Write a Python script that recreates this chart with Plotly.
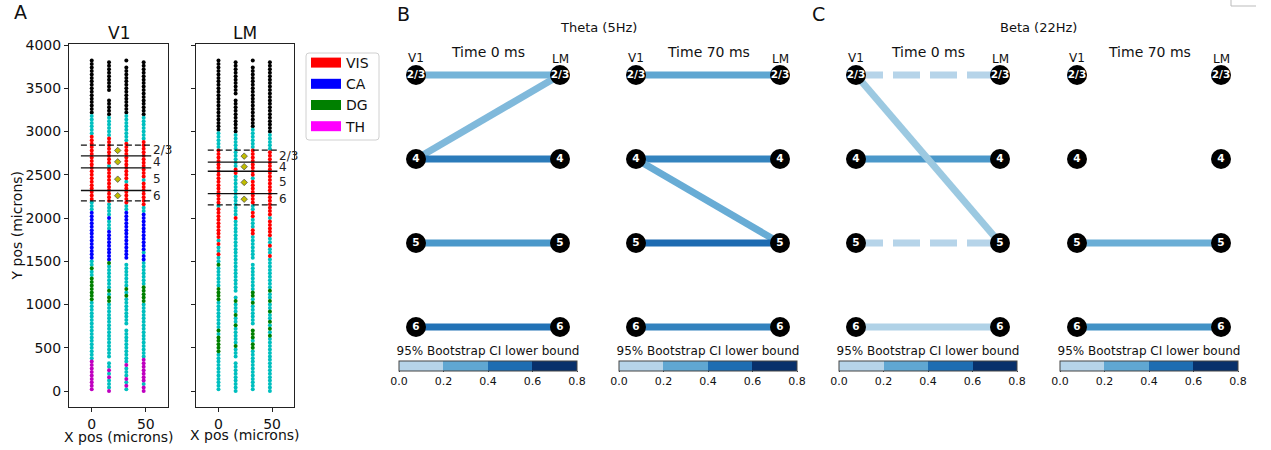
import numpy as np
import plotly.graph_objects as go
from plotly.colors import sample_colorscale, sequential

W, H = 1271, 450
FONT = "DejaVu Sans"

# ---------------------------------------------------------------- panel A data
# Shank columns of the probe (microns) and vertical site pitch per column.
shank_x = [0, 16, 32, 48]
shank_first_site = [20, 0, 20, 0]
SITE_PITCH = 40

# Region runs along each column: (region, first site y, last site y).
# "out" = outside brain, "other" = unassigned tissue.
v1_col_0 = [("TH", 20, 340), ("other", 380, 1020), ("DG", 1060, 1300), ("other", 1340, 1380),
            ("DG", 1420, 1420), ("other", 1460, 1500), ("CA", 1540, 2060), ("other", 2100, 2180),
            ("VIS", 2220, 2940), ("other", 2980, 3180), ("out", 3220, 3820)]
v1_col_16 = [("TH", 0, 0), ("other", 40, 120), ("TH", 160, 160), ("other", 200, 200), ("TH", 240, 240),
             ("other", 280, 320), ("other", 400, 1000), ("DG", 1040, 1080), ("other", 1120, 1120),
             ("DG", 1160, 1160), ("other", 1200, 1440), ("DG", 1480, 1480), ("CA", 1520, 1840),
             ("other", 1880, 1960), ("CA", 2000, 2000), ("other", 2040, 2160), ("VIS", 2200, 2560),
             ("other", 2600, 2600), ("VIS", 2640, 2920), ("other", 2960, 3160), ("out", 3200, 3360),
             ("out", 3480, 3800)]
v1_col_32 = [("other", 20, 20), ("TH", 60, 60), ("other", 100, 100), ("TH", 140, 140), ("other", 180, 260),
             ("TH", 300, 300), ("other", 340, 700), ("other", 780, 1060), ("DG", 1100, 1100),
             ("other", 1140, 1140), ("DG", 1180, 1180), ("other", 1220, 1460), ("CA", 1540, 2060),
             ("other", 2100, 2140), ("VIS", 2180, 2380), ("other", 2420, 2420), ("VIS", 2460, 2860),
             ("other", 2900, 3180), ("out", 3220, 3740), ("out", 3820, 3820)]
v1_col_48 = [("TH", 0, 40), ("other", 80, 80), ("TH", 120, 360), ("other", 400, 1000), ("DG", 1040, 1200),
             ("other", 1240, 1480), ("CA", 1520, 1560), ("other", 1600, 1600), ("CA", 1640, 2040),
             ("other", 2080, 2120), ("VIS", 2160, 2400), ("other", 2440, 2440), ("VIS", 2480, 2880),
             ("other", 2920, 3160), ("out", 3200, 3800)]

lm_col_0 = [("other", 20, 420), ("DG", 460, 620), ("other", 660, 660), ("DG", 700, 700), ("other", 740, 1020),
            ("DG", 1060, 1180), ("other", 1220, 1420), ("DG", 1460, 1460), ("other", 1500, 1540),
            ("VIS", 1580, 1580), ("other", 1620, 1660), ("VIS", 1700, 1700), ("other", 1740, 1740),
            ("VIS", 1780, 2100), ("other", 2140, 2140), ("VIS", 2180, 2780), ("other", 2820, 2980),
            ("out", 3020, 3820)]
lm_col_16 = [("other", 0, 320), ("other", 400, 480), ("DG", 520, 520), ("other", 560, 720), ("DG", 760, 760),
             ("other", 800, 840), ("DG", 880, 880), ("other", 920, 1000), ("DG", 1040, 1040),
             ("other", 1080, 1080), ("other", 1160, 1960), ("VIS", 2000, 2000), ("other", 2040, 2480),
             ("VIS", 2520, 2560), ("other", 2600, 2960), ("out", 3000, 3360), ("out", 3440, 3800)]
lm_col_32 = [("other", 20, 460), ("DG", 500, 540), ("other", 580, 580), ("DG", 620, 700), ("other", 780, 980),
             ("DG", 1020, 1020), ("other", 1060, 1060), ("DG", 1100, 1140), ("other", 1180, 1460),
             ("other", 1540, 1780), ("VIS", 1820, 1860), ("other", 1900, 1980), ("VIS", 2020, 2060),
             ("other", 2100, 2140), ("VIS", 2180, 2420), ("other", 2460, 2460), ("VIS", 2500, 2780),
             ("other", 2820, 3020), ("out", 3060, 3740), ("out", 3820, 3820)]
lm_col_48 = [("other", 0, 600), ("DG", 640, 640), ("other", 680, 680), ("DG", 720, 720), ("other", 760, 760),
             ("DG", 800, 800), ("other", 840, 880), ("DG", 920, 920), ("other", 960, 1000),
             ("DG", 1040, 1040), ("other", 1080, 1120), ("DG", 1160, 1160), ("other", 1200, 1520),
             ("VIS", 1560, 1560), ("other", 1600, 1640), ("VIS", 1680, 1680), ("other", 1720, 1760),
             ("VIS", 1800, 1960), ("other", 2000, 2000), ("VIS", 2040, 2760), ("other", 2800, 2960),
             ("out", 3000, 3800)]

# Cortical layer boundaries (microns), top to bottom
layer_names = ["2/3", "4", "5", "6"]
v1_layer_bounds = [2843, 2719, 2580, 2318, 2198]
lm_layer_bounds = [2785, 2646, 2541, 2283, 2152]

site_colors = {"out": "#000000", "other": "#00bfbf", "VIS": "#ff0000",
               "CA": "#0000ff", "DG": "#008000", "TH": "#bf00bf"}
legend_regions = ["VIS", "CA", "DG", "TH"]
legend_colors = ["#ff0000", "#0000ff", "#008000", "#ff00ff"]

# ---------------------------------------------------------------- panels B, C data
# Inter-areal edges V1 layer -> LM layer, value = 95% bootstrap CI lower bound.
theta_0_from = ["2/3", "4", "4", "5", "6"]
theta_0_to = ["2/3", "2/3", "4", "5", "6"]
theta_0_ci = [0.20, 0.17, 0.47, 0.34, 0.51]

theta_70_from = ["2/3", "4", "4", "5", "6"]
theta_70_to = ["2/3", "4", "5", "5", "6"]
theta_70_ci = [0.27, 0.43, 0.24, 0.54, 0.44]

beta_0_from = ["2/3", "4", "5", "6", "2/3"]
beta_0_to = ["2/3", "4", "5", "6", "5"]
beta_0_ci = [-0.05, 0.34, -0.05, 0.02, 0.09]

beta_70_from = ["5", "6"]
beta_70_to = ["5", "6"]
beta_70_ci = [0.23, 0.37]

CI_MAX = 0.8
cbar_ticks = [0.0, 0.2, 0.4, 0.6, 0.8]


def ci_color(v):
    # truncated Blues map (0.3 .. 1.0) over 0 .. CI_MAX
    t = 0.3 + 0.7 * min(max(v / CI_MAX, 0.0), 1.0)
    return sample_colorscale(sequential.Blues, [t])[0]


bins = sample_colorscale(sequential.Blues, [0.3, 0.3 + 0.7 / 3, 0.3 + 1.4 / 3, 1.0])
discrete_scale = []
for i, c in enumerate(bins):
    discrete_scale += [[i / 4, c], [(i + 1) / 4, c]]

fig = go.Figure()


def px_x(p):
    return p / W


def px_y(p):
    return 1 - p / H


def label(x, y, text, size, **kw):
    d = dict(x=px_x(x), y=px_y(y), xref="paper", yref="paper", text=text, showarrow=False,
             xanchor="center", yanchor="middle", font=dict(size=size))
    d.update(kw)
    return d


# ---------------------------------------------------------------- panel A traces
def add_probe(columns, xa, ya):
    for region, color in site_colors.items():
        xs, ys = [], []
        for xpos, first, runs in zip(shank_x, shank_first_site, columns):
            for reg, y0, y1 in runs:
                if reg != region:
                    continue
                pts = np.arange(y0, y1 + 1, SITE_PITCH)
                xs += [xpos] * len(pts)
                ys += list(pts)
        fig.add_trace(go.Scatter(x=xs, y=ys, mode="markers", xaxis=xa, yaxis=ya,
                                 marker=dict(size=4, color=color, line=dict(width=0)),
                                 showlegend=False, hoverinfo="skip"))


def add_layers(bounds, xa, ya, anns):
    n = len(bounds)
    for i, b in enumerate(bounds):
        dashed = i == 0 or i == n - 1
        fig.add_trace(go.Scatter(x=[-10, 55], y=[b, b], mode="lines", xaxis=xa, yaxis=ya,
                                 line=dict(color="#111111", width=1.3, dash="6px,3px" if dashed else "solid"),
                                 showlegend=False, hoverinfo="skip"))
    mids = [(bounds[i] + bounds[i + 1]) / 2 for i in range(n - 1)]
    fig.add_trace(go.Scatter(x=[24] * len(mids), y=mids, mode="markers", xaxis=xa, yaxis=ya,
                             marker=dict(symbol="diamond", size=5, color="#c0bc00",
                                         line=dict(color="#444444", width=0.7)),
                             showlegend=False, hoverinfo="skip"))
    for name, m in zip(layer_names, mids):
        anns.append(dict(x=55, y=m, xref=xa, yref=ya, text=name, showarrow=False,
                         xanchor="left", yanchor="middle", font=dict(size=12, color="#222222")))


annotations = []
add_probe([v1_col_0, v1_col_16, v1_col_32, v1_col_48], "x", "y")
add_layers(v1_layer_bounds, "x", "y", annotations)
add_probe([lm_col_0, lm_col_16, lm_col_32, lm_col_48], "x2", "y2")
add_layers(lm_layer_bounds, "x2", "y2", annotations)

for name, color in zip(legend_regions, legend_colors):
    fig.add_trace(go.Scatter(x=[None], y=[None], mode="lines", name=name, xaxis="x", yaxis="y",
                             line=dict(color=color, width=10)))

# ---------------------------------------------------------------- panels B, C traces
networks = [
    ("x3", theta_0_from, theta_0_to, theta_0_ci),
    ("x4", theta_70_from, theta_70_to, theta_70_ci),
    ("x5", beta_0_from, beta_0_to, beta_0_ci),
    ("x6", beta_70_from, beta_70_to, beta_70_ci),
]
times = ["Time 0 ms", "Time 70 ms", "Time 0 ms", "Time 70 ms"]
v1_px = [416, 636, 856, 1077]
SPAN = 144
PADX = 30
ROW_TOP, ROW_STEP, PADY = 75, 84, 30

for xa, src, dst, ci in networks:
    for s, d, v in zip(src, dst, ci):
        fig.add_trace(go.Scatter(x=[0, 1], y=[layer_names.index(s), layer_names.index(d)],
                                 mode="lines", xaxis=xa, yaxis="y3",
                                 line=dict(color=ci_color(v), width=7,
                                           dash="27px,10px" if v < 0 else "solid"),
                                 showlegend=False, hoverinfo="skip"))

for k, (xa, src, dst, ci) in enumerate(networks):
    for side in (0, 1):
        fig.add_trace(go.Scatter(x=[side] * len(layer_names), y=list(range(len(layer_names))),
                                 mode="markers+text", text=layer_names, textposition="middle center",
                                 textfont=dict(family=FONT, size=10.5, color="white", weight="bold"),
                                 marker=dict(size=20, color="black"), xaxis=xa, yaxis="y3",
                                 showlegend=False, hoverinfo="skip", cliponaxis=False))
    center = v1_px[k] + SPAN / 2
    fig.add_trace(go.Scatter(x=[None], y=[None], mode="markers", xaxis=xa, yaxis="y3", showlegend=False,
                             marker=dict(color=[0], cmin=0, cmax=CI_MAX, colorscale=discrete_scale,
                                         showscale=True,
                                         colorbar=dict(orientation="h", x=px_x(center), xanchor="center",
                                                       y=px_y(346.5), yanchor="top", len=177.5, lenmode="pixels",
                                                       thickness=9.5, xpad=0, ypad=0,
                                                       outlinewidth=1, outlinecolor="#444444",
                                                       tickvals=cbar_ticks, tickformat=".1f",
                                                       ticks="outside", ticklen=1, tickcolor="#444444",
                                                       tickfont=dict(family=FONT, size=11, color="#111"),
                                                       title=dict(text="95% Bootstrap CI lower bound", side="top",
                                                                  font=dict(family=FONT, size=12, color="#111"))))))
    annotations.append(dict(x=0, y=0, xref=xa, yref="y3", text="V1", showarrow=False, yshift=17,
                            xanchor="center", yanchor="middle", font=dict(size=12)))
    annotations.append(dict(x=1, y=0, xref=xa, yref="y3", text="LM", showarrow=False, yshift=16,
                            xanchor="center", yanchor="middle", font=dict(size=12)))
    annotations.append(label(center, 52, times[k], 14))

annotations += [
    label((v1_px[0] + v1_px[1] + SPAN) / 2, 27, "Theta (5Hz)", 13),
    label((v1_px[2] + v1_px[3] + SPAN) / 2, 27, "Beta (22Hz)", 13),
    label(20.5, 12, "A", 19),
    label(403, 14, "B", 19),
    label(818, 14, "C", 19),
    label(118.5, 33, "V1", 17),
    label(245, 33, "LM", 17),
    label(16.5, 226, "Y pos (microns)", 14, textangle=-90),
    label(118.5, 437, "X pos (microns)", 14),
    label(245, 435, "X pos (microns)", 14),
]

# ---------------------------------------------------------------- axes
probe_x = dict(range=[-21, 70.5], tickvals=[0, 50], ticks="outside", ticklen=4, tickcolor="#222",
               showline=True, linecolor="#222", linewidth=1, mirror=True, showgrid=False, zeroline=False,
               tickfont=dict(size=14, color="#111"))
probe_y = dict(range=[-185, 4012], tickvals=list(range(0, 4001, 500)), ticks="outside", ticklen=4,
               tickcolor="#222", showline=True, linecolor="#222", linewidth=1, mirror=True,
               showgrid=False, zeroline=False, tickfont=dict(size=14, color="#111"),
               domain=[px_y(407), px_y(44)])

net_axes = {}
for k in range(4):
    net_axes[f"xaxis{k + 3}"] = dict(domain=[px_x(v1_px[k] - PADX), px_x(v1_px[k] + SPAN + PADX)],
                                     range=[-PADX / SPAN, 1 + PADX / SPAN], visible=False, anchor="y3")
ytop = ROW_TOP - PADY
ybot = ROW_TOP + 3 * ROW_STEP + PADY
net_y = dict(domain=[px_y(ybot), px_y(ytop)], range=[3 + PADY / ROW_STEP, -PADY / ROW_STEP],
             visible=False, anchor="x3")

# legend frame (rounded, light grey)
lx0, lx1, ly0, ly1, r = 306, 379, 53, 140, 3
frame = (f"M {px_x(lx0 + r)} {px_y(ly0)} L {px_x(lx1 - r)} {px_y(ly0)} "
         f"Q {px_x(lx1)} {px_y(ly0)} {px_x(lx1)} {px_y(ly0 + r)} L {px_x(lx1)} {px_y(ly1 - r)} "
         f"Q {px_x(lx1)} {px_y(ly1)} {px_x(lx1 - r)} {px_y(ly1)} L {px_x(lx0 + r)} {px_y(ly1)} "
         f"Q {px_x(lx0)} {px_y(ly1)} {px_x(lx0)} {px_y(ly1 - r)} L {px_x(lx0)} {px_y(ly0 + r)} "
         f"Q {px_x(lx0)} {px_y(ly0)} {px_x(lx0 + r)} {px_y(ly0)} Z")

fig.update_layout(
    width=W, height=H, margin=dict(l=0, r=0, t=0, b=0, autoexpand=False),
    paper_bgcolor="white", plot_bgcolor="white",
    font=dict(family=FONT, color="#111"),
    xaxis=dict(domain=[px_x(69), px_x(168)], anchor="y", **probe_x),
    yaxis=dict(anchor="x", **probe_y),
    xaxis2=dict(domain=[px_x(196), px_x(294)], anchor="y2", **probe_x),
    yaxis2=dict(anchor="x2", showticklabels=False, **probe_y),
    yaxis3=net_y,
    **net_axes,
    legend=dict(x=px_x(306), y=px_y(47), xanchor="left", yanchor="top", borderwidth=0,
                bgcolor="rgba(0,0,0,0)", font=dict(size=14), itemwidth=30),
    annotations=annotations,
    shapes=[
        dict(type="path", xref="paper", yref="paper", path=frame, line=dict(color="#d0d0d0", width=1)),
        dict(type="path", xref="paper", yref="paper",
             path=f"M {px_x(1231)} {px_y(0)} L {px_x(1231)} {px_y(6)} L {px_x(1256)} {px_y(6)}",
             line=dict(color="#bbbbbb", width=1)),
    ],
)

fig.write_html("out.html")
